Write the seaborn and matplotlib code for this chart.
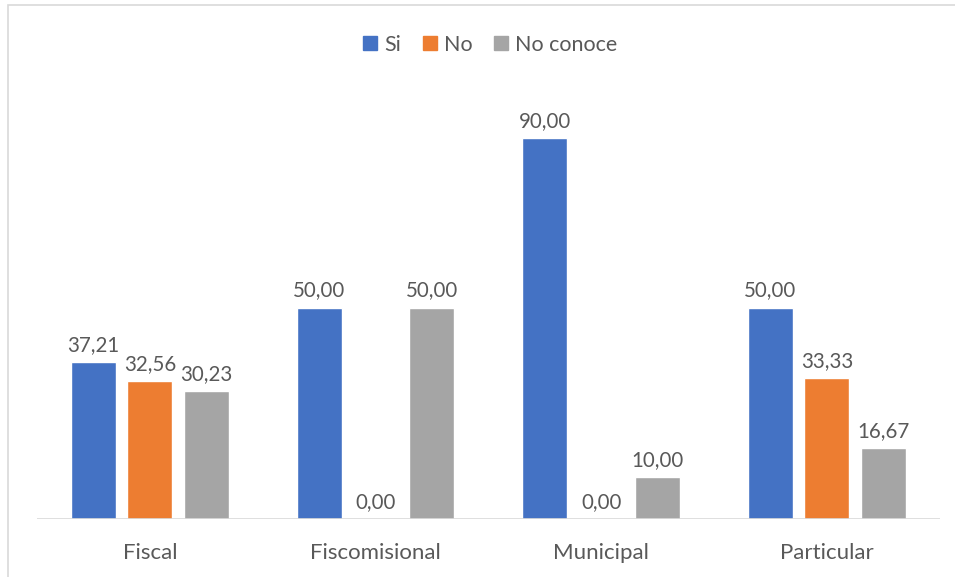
import numpy as np
import matplotlib
matplotlib.use('Agg')
import matplotlib.pyplot as plt
from matplotlib.patches import Rectangle
import seaborn as sns
import pandas as pd

# Datos del grafico
categorias = ['Fiscal', 'Fiscomisional', 'Municipal', 'Particular']
si = [37.21, 50.00, 90.00, 50.00]
no = [32.56, 0.00, 0.00, 33.33]
no_conoce = [30.23, 50.00, 10.00, 16.67]
series = ['Si', 'No', 'No conoce']
colores = ['#4472C4', '#ED7D31', '#A5A5A5']

df = pd.DataFrame({
    'Tipo': categorias * 3,
    'Respuesta': ['Si'] * 4 + ['No'] * 4 + ['No conoce'] * 4,
    'Valor': si + no + no_conoce,
})

sns.set_theme(style='white')
plt.rcParams['font.family'] = ['Lato', 'DejaVu Sans']
texto = '#595959'

fig = plt.figure(figsize=(9.55, 5.77), dpi=100)
ax = fig.add_axes([0.0387, 0.1005, 0.9453, 0.7331])

sns.barplot(data=df, x='Tipo', y='Valor', hue='Respuesta',
            hue_order=series, palette=colores, width=0.75, gap=0.2,
            saturation=1, ax=ax, legend=False)

# Etiquetas de datos con coma decimal
for cont in ax.containers:
    ax.bar_label(cont, labels=[('%.2f' % v).replace('.', ',') for v in cont.datavalues],
                 padding=5, fontsize=14.8, color=texto)

ax.set_ylim(0, 100)
ax.set_xlim(-0.5, 3.5)
ax.axhline(0, color='#D9D9D9', lw=1.2)
for s in ax.spines.values():
    s.set_visible(False)
ax.set_yticks([])
ax.set_xlabel('')
ax.set_ylabel('')
ax.tick_params(axis='x', length=0, pad=17, labelsize=16, labelcolor=texto)

# Leyenda
handles = [plt.Line2D([], [], marker='s', ls='', markersize=10, color=c) for c in colores]
fig.legend(handles, series, loc='center', bbox_to_anchor=(0.512, 0.922), ncol=3,
           frameon=False, fontsize=15.5, labelcolor=texto, handletextpad=0.2,
           columnspacing=0.9, handlelength=0.9)

# Borde del area del grafico
fig.patches.append(Rectangle((8 / 955, -0.5), 2, 1.5 - 5 / 577, transform=fig.transFigure,
                             fill=False, edgecolor='#D9D9D9', lw=1.2))

fig.savefig('out.png', dpi=100)
